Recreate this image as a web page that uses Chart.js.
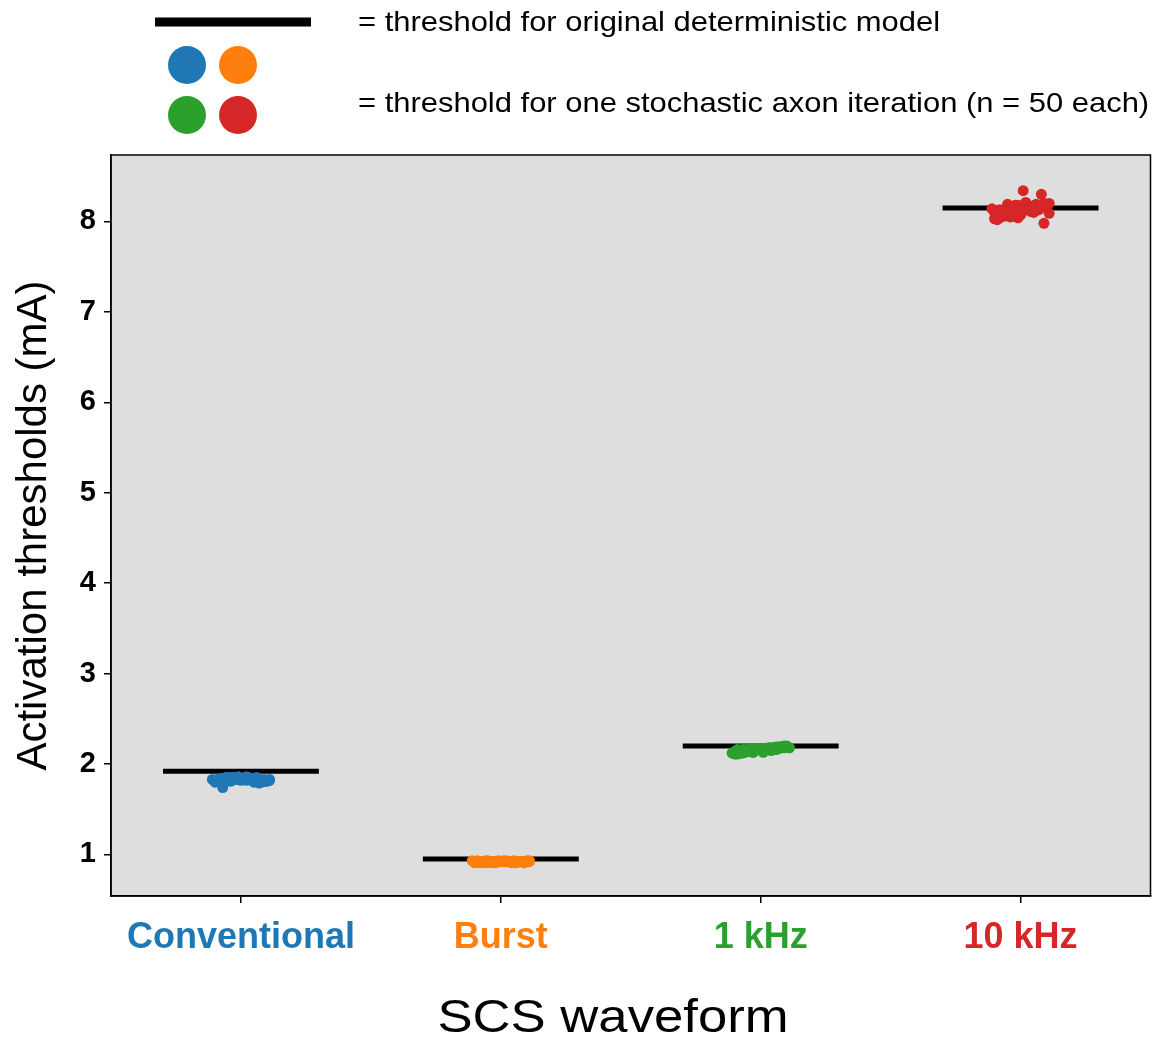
<!DOCTYPE html>
<html>
<head>
<meta charset="utf-8">
<script src="https://cdn.jsdelivr.net/npm/chart.js@4.4.1/dist/chart.umd.min.js"></script>
<style>
    html, body { margin: 0; padding: 0; background: #fff; }
    #wrap { width: 1156px; height: 1041px; }
</style>
</head>
<body>
<div id="wrap"><canvas id="canvas1" width="1156" height="1041"></canvas></div>
<script>
'use strict';

const waveforms = ['Conventional', 'Burst', '1 kHz', '10 kHz'];
const waveColors = ['#1f77b4', '#ff7f0e', '#2ca02c', '#d62728'];

// deterministic model threshold per waveform (mA)
const deterministic = [1.92, 0.95, 2.20, 8.15];

const yTicks = [1, 2, 3, 4, 5, 6, 7, 8];

// horizontal spread of the stochastic points around each category
const jitter = [
    -0.09, 0.04, -0.02, 0.10, -0.06, 0.07, 0.01, -0.10, 0.05, -0.04,
    0.09, -0.07, 0.02, -0.01, 0.06, -0.08, 0.03, 0.11, -0.05, 0.00,
    0.08, -0.03, -0.11, 0.05, 0.10, -0.06, 0.02, -0.09, 0.07, -0.02,
    0.04, -0.07, 0.09, 0.01, -0.04, 0.06, -0.10, 0.03, -0.01, 0.08,
    -0.08, 0.00, 0.11, -0.05, 0.05, -0.03, 0.07, -0.09, 0.02, -0.06
];

// stochastic axon thresholds, n = 50 each
const conventional = [
    1.82, 1.84, 1.83, 1.81, 1.85, 1.82, 1.84, 1.80, 1.83, 1.85,
    1.81, 1.74, 1.84, 1.83, 1.82, 1.80, 1.85, 1.82, 1.84, 1.83,
    1.81, 1.85, 1.83, 1.80, 1.82, 1.84, 1.86, 1.81, 1.83, 1.85,
    1.82, 1.78, 1.83, 1.84, 1.81, 1.85, 1.82, 1.83, 1.86, 1.80,
    1.84, 1.82, 1.83, 1.85, 1.81, 1.84, 1.79, 1.83, 1.82, 1.84
];
const burst = [
    0.92, 0.91, 0.92, 0.93, 0.91, 0.92, 0.92, 0.91, 0.93, 0.92,
    0.91, 0.92, 0.93, 0.92, 0.91, 0.92, 0.92, 0.93, 0.91, 0.92,
    0.92, 0.91, 0.93, 0.92, 0.92, 0.91, 0.92, 0.93, 0.92, 0.91,
    0.92, 0.92, 0.91, 0.93, 0.92, 0.92, 0.91, 0.92, 0.93, 0.92,
    0.91, 0.92, 0.92, 0.93, 0.91, 0.92, 0.92, 0.91, 0.92, 0.93
];
const khz1 = [
    2.16, 2.18, 2.15, 2.19, 2.13, 2.17, 2.16, 2.11, 2.18, 2.15,
    2.20, 2.12, 2.17, 2.16, 2.19, 2.14, 2.17, 2.18, 2.14, 2.16,
    2.19, 2.13, 2.12, 2.17, 2.20, 2.15, 2.16, 2.11, 2.19, 2.17,
    2.15, 2.16, 2.18, 2.13, 2.17, 2.16, 2.14, 2.18, 2.16, 2.19,
    2.12, 2.17, 2.18, 2.15, 2.16, 2.13, 2.19, 2.14, 2.17, 2.16
];
const khz10 = [
    8.12, 8.16, 8.09, 8.19, 8.06, 8.14, 8.34, 8.03, 8.17, 8.10,
    8.20, 8.08, 8.13, 8.18, 8.12, 8.04, 8.15, 8.09, 8.19, 8.13,
    8.30, 8.06, 8.14, 8.10, 8.17, 8.08, 8.21, 8.02, 8.13, 8.18,
    8.11, 8.09, 7.98, 8.15, 8.05, 8.19, 8.10, 8.14, 8.04, 8.16,
    8.13, 8.07, 8.20, 8.11, 8.15, 8.06, 8.17, 8.09, 8.14, 8.10
];

const stochastic = [conventional, burst, khz1, khz10];

const FONT = "'Liberation Sans', Arial, Helvetica, sans-serif";

let datasets = [];

stochastic.forEach((vals, i) => {
    datasets.push({
        label: waveforms[i],
        data: vals.map((v, k) => ({ x: i + jitter[k], y: v })),
        backgroundColor: waveColors[i],
        borderWidth: 0,
        pointRadius: 5.5,
        order: 0,
    });
});

deterministic.forEach((v, i) => {
    datasets.push({
        label: waveforms[i] + ' deterministic',
        data: [{ x: i - 0.3, y: v }, { x: i + 0.3, y: v }],
        showLine: true,
        borderColor: '#000',
        borderWidth: 5,
        pointRadius: 0,
        order: 1,
    });
});

// text stretched sideways a little, like the rest of the figure
function wideText(ctx, text, x, y, sx, align) {
    ctx.save();
    ctx.translate(x, y);
    ctx.scale(sx, 1);
    ctx.textAlign = align;
    ctx.fillText(text, 0, 0);
    ctx.restore();
}

// grey plot face, frame, x title and the key above the axes
const frameAndKey = {
    id: 'frameAndKey',
    beforeDraw(chart) {
        let a = chart.chartArea;
        let ctx = chart.ctx;
        ctx.save();
        ctx.fillStyle = '#dedede';
        ctx.fillRect(a.left, a.top, a.right - a.left, a.bottom - a.top);
        ctx.restore();
    },
    afterDraw(chart) {
        let a = chart.chartArea;
        let ctx = chart.ctx;
        ctx.save();
        ctx.strokeStyle = '#000';
        ctx.lineWidth = 1.5;
        ctx.strokeRect(a.left, a.top, a.right - a.left, a.bottom - a.top);

        ctx.fillStyle = '#000';
        ctx.fillRect(155, 17.5, 156, 9);

        let dots = [[187, 65], [238, 65], [187, 115], [238, 115]];
        dots.forEach((d, i) => {
            ctx.beginPath();
            ctx.arc(d[0], d[1], 19, 0, Math.PI * 2);
            ctx.fillStyle = waveColors[i];
            ctx.fill();
        });

        ctx.fillStyle = '#000';
        ctx.font = '28px ' + FONT;
        ctx.textBaseline = 'middle';
        wideText(ctx, '= threshold for original deterministic model', 358, 23, 1.105, 'left');
        wideText(ctx, '= threshold for one stochastic axon iteration (n = 50 each)', 358, 104, 1.105, 'left');

        ctx.font = '46px ' + FONT;
        ctx.textBaseline = 'alphabetic';
        wideText(ctx, 'SCS waveform', 613, 1032, 1.145, 'center');
        ctx.restore();
    }
};

let chart1 = new Chart(document.querySelector('#canvas1'), {
    type: 'scatter',
    data: { datasets: datasets },
    plugins: [frameAndKey],
    options: {
        responsive: false,
        animation: false,
        layout: { padding: { top: 155, right: 3, left: 0, bottom: 0 } },
        plugins: {
            legend: { display: false },
            tooltip: { enabled: false },
        },
        scales: {
            x: {
                type: 'linear',
                min: -0.5,
                max: 3.5,
                afterBuildTicks: s => { s.ticks = waveforms.map((w, i) => ({ value: i })); },
                afterFit: s => { s.height = 145; },
                ticks: {
                    autoSkip: false,
                    maxRotation: 0,
                    padding: 13,
                    callback: v => waveforms[v],
                    color: c => waveColors[c.index],
                    font: { family: FONT, size: 36, weight: 'bold' },
                },
                grid: { drawOnChartArea: false, drawTicks: true, tickLength: 7, color: '#000', lineWidth: 1.5 },
                border: { display: true, color: '#000', width: 1.5 },
            },
            y: {
                min: 0.541,
                max: 8.735,
                afterBuildTicks: s => { s.ticks = yTicks.map(v => ({ value: v })); },
                afterFit: s => { s.width = 111; },
                ticks: {
                    padding: 8,
                    color: '#000',
                    font: { family: FONT, size: 29, weight: 'bold' },
                },
                grid: { drawOnChartArea: false, drawTicks: true, tickLength: 7, color: '#000', lineWidth: 1.5 },
                border: { display: true, color: '#000', width: 1.5 },
                title: {
                    display: true,
                    text: 'Activation thresholds (mA)',
                    color: '#000',
                    font: { family: FONT, size: 42, lineHeight: 1.2 },
                    padding: { top: 9, bottom: 0 },
                },
            },
        },
    },
});
</script>
</body>
</html>
